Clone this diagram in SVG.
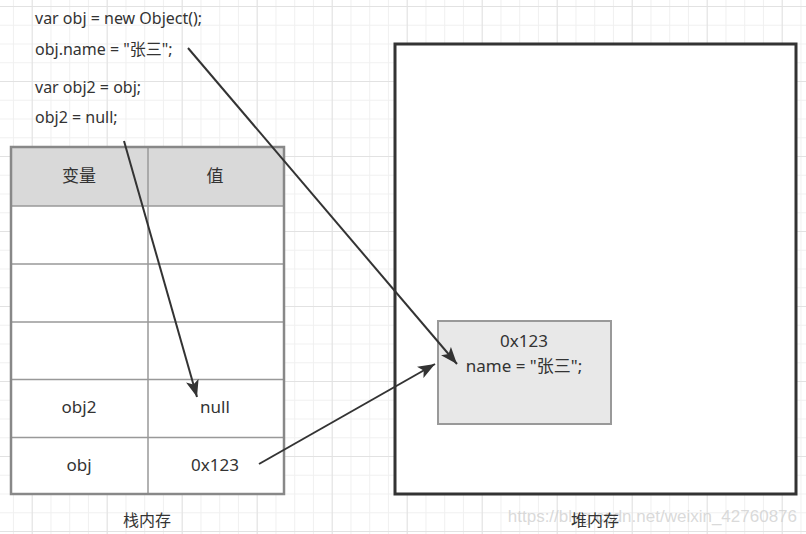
<svg xmlns="http://www.w3.org/2000/svg" width="806" height="534" viewBox="0 0 806 534">
<defs>
<pattern id="minor" x="31.7" y="6" width="18.75" height="18.75" patternUnits="userSpaceOnUse">
<path d="M0 0.5H18.75M0.5 0V18.75" fill="none" stroke="#f0f0f0" stroke-width="1"/>
</pattern>
<pattern id="major" x="31.7" y="6" width="75" height="75" patternUnits="userSpaceOnUse">
<path d="M0 0.5H75M0.5 0V75" fill="none" stroke="#e2e2e2" stroke-width="1"/>
</pattern>
<marker id="arr" markerUnits="userSpaceOnUse" markerWidth="18" markerHeight="14" refX="17" refY="6.5" orient="auto" viewBox="0 0 18 13">
<path d="M0,0 L17,6.5 L0,13 L4,6.5 z" fill="#333"/>
</marker>
<style>
.t{font-family:"Noto Sans","Noto Sans CJK SC",sans-serif;fill:#333;}
.code{font-size:16px;}
.cell{font-size:17px;text-anchor:middle;}
.lbl{font-size:16px;text-anchor:middle;}
.grid{fill:none;stroke:#999;stroke-width:1.5;}
.edge{fill:none;stroke:#333;stroke-width:2;marker-end:url(#arr);}
</style>
</defs>
<rect width="806" height="534" fill="#fff"/>
<rect width="806" height="534" fill="url(#minor)"/>
<rect width="806" height="534" fill="url(#major)"/>

<g id="code">
<text class="t code" x="35" y="24">var obj = new Object();</text>
<text class="t code" x="35" y="55">obj.name = "张三";</text>
<text class="t code" x="35" y="93">var obj2 = obj;</text>
<text class="t code" x="35" y="123">obj2 = null;</text>
</g>

<g id="stack">
<rect x="11" y="147" width="273" height="59" fill="#d9d9d9"/>
<rect x="11" y="206" width="273" height="288" fill="#fff"/>
<path class="grid" d="M11 206H284M11 264H284M11 322H284M11 379.5H284M11 437.5H284M148 147V494"/>
<rect x="11" y="147" width="273" height="347" fill="none" stroke="#888" stroke-width="2.5"/>
<text class="t cell" x="79" y="182">变量</text>
<text class="t cell" x="215" y="182">值</text>
<text class="t cell" x="79" y="413">obj2</text>
<text class="t cell" x="215" y="413">null</text>
<text class="t cell" x="79" y="471">obj</text>
<text class="t cell" x="215" y="471">0x123</text>
<text class="t lbl" x="147" y="526">栈内存</text>
</g>

<g id="heap">
<rect x="395" y="44" width="401" height="450" fill="#fff" stroke="#333" stroke-width="3"/>
<text x="797" y="522" font-family="Liberation Sans, sans-serif" font-size="17" fill="#d0d0d0" fill-opacity="0.8" text-anchor="end">https://blog.csdn.net/weixin_42760876</text>
<text class="t lbl" x="595" y="526">堆内存</text>
</g>

<g id="object">
<rect x="438" y="321" width="173" height="103" fill="#e8e8e8" stroke="#999" stroke-width="2"/>
<text class="t cell" x="524" y="347" font-size="16">0x123</text>
<text class="t cell" x="524" y="372" font-size="16">name = "张三";</text>
</g>

<g id="connectors">
<path class="edge" d="M188 48L457 364"/>
<path class="edge" d="M124 141L197 397"/>
<path class="edge" d="M259 464L435 364"/>
</g>
</svg>
